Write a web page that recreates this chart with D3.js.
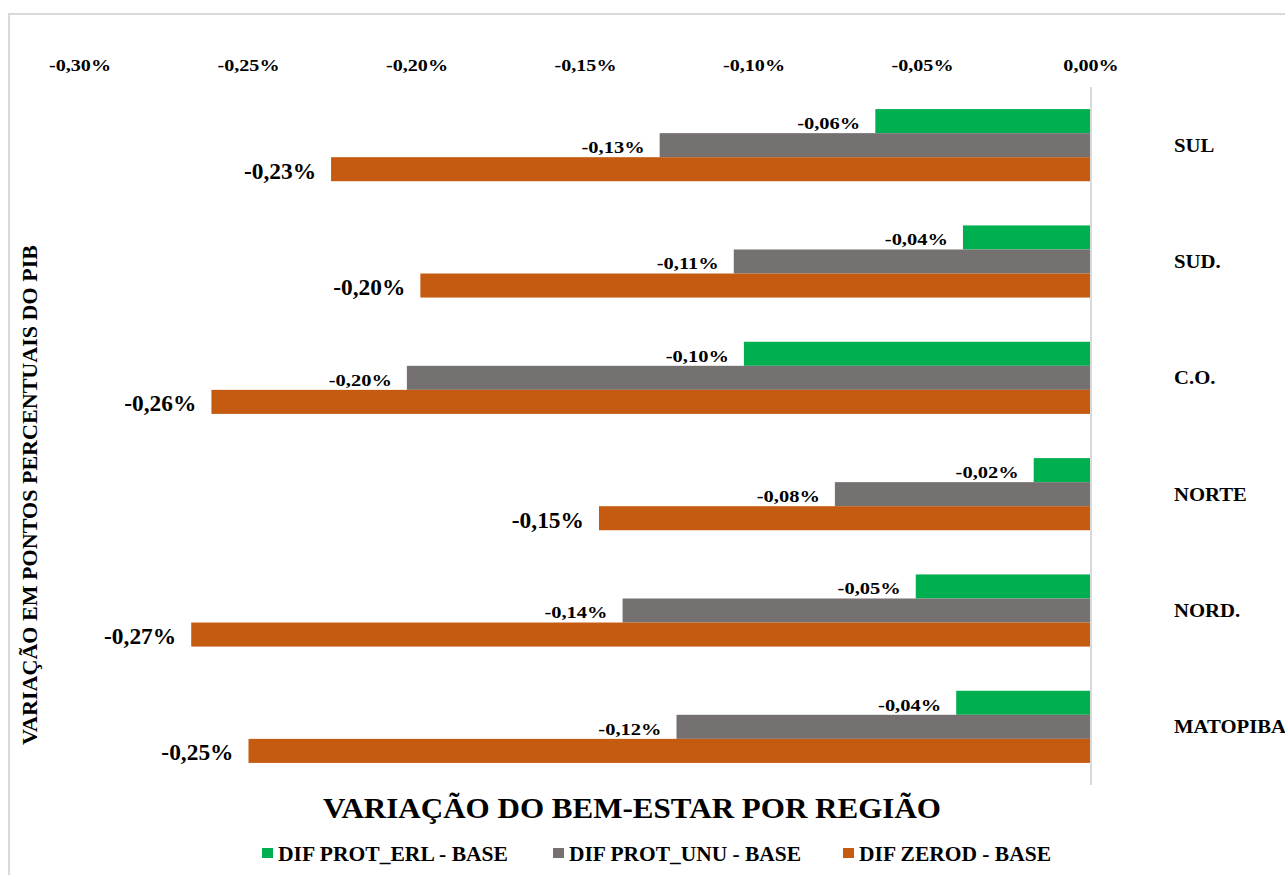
<!DOCTYPE html>
<html>
<head>
<meta charset="utf-8">
<script src="https://cdn.jsdelivr.net/npm/d3@7"></script>
<style>
	body { margin: 0; background: #fff; }
</style>
</head>
<body>
<div id="chart"></div>
<script>
var regions = ['SUL', 'SUD.', 'C.O.', 'NORTE', 'NORD.', 'MATOPIBA'];
var seriesNames = ['DIF PROT_ERL - BASE', 'DIF PROT_UNU - BASE', 'DIF ZEROD - BASE'];
var protErl = [-0.064, -0.038, -0.103, -0.017, -0.052, -0.040];
var protUnu = [-0.128, -0.106, -0.203, -0.076, -0.139, -0.123];
var zerod = [-0.2255, -0.199, -0.261, -0.146, -0.267, -0.250];
var ticks = [-0.30, -0.25, -0.20, -0.15, -0.10, -0.05, 0];
var colors = ['#00b050', '#767171', '#c55a11'];

(function() {
	var width = 1285, height = 875;
	var svg = d3.select('#chart').append('svg')
		.attr('width', width)
		.attr('height', height);

	// every label uses the same bold serif
	var serif = function(sel, size) {
		sel.attr('font-family', 'Liberation Serif')
			.style('font-family', "'Liberation Serif', serif")
			.style('font-weight', 'bold')
			.style('font-size', size + 'px')
			.attr('fill', '#000');
	};

	// stretch a text horizontally by a factor
	var stretch = function(sel, k) {
		sel.each(function() {
			var len = this.getComputedTextLength();
			d3.select(this)
				.attr('textLength', len * k)
				.attr('lengthAdjust', 'spacingAndGlyphs');
		});
	};

	// chart frame
	svg.append('rect')
		.attr('x', 9).attr('y', 14)
		.attr('width', width + 20).attr('height', height + 20)
		.attr('fill', 'none')
		.attr('stroke', '#d9d9d9')
		.attr('stroke-width', 2);

	var x = d3.scaleLinear().domain([-0.30, 0]).range([80, 1091]);
	var y = d3.scaleBand().domain(regions).range([87, 785])
		.paddingInner(0.38).paddingOuter(0.19);
	var ySub = d3.scaleBand().domain([0, 1, 2]).range([0, y.bandwidth()]);

	var fmt = function(v) {
		return d3.format('.2f')(v).replace('\u2212', '-').replace('.', ',') + '%';
	};

	// top axis labels
	svg.append('g').selectAll('text')
		.data(ticks).enter().append('text')
		.attr('x', function(d) { return x(d); })
		.attr('y', 71)
		.attr('text-anchor', 'middle')
		.text(function(d) { return fmt(d); })
		.call(serif, 17.5)
		.call(stretch, 1.15);

	var series = [protErl, protUnu, zerod];
	var groups = svg.append('g').selectAll('g')
		.data(regions).enter().append('g')
		.attr('transform', function(d) { return 'translate(0,' + y(d) + ')'; });

	groups.each(function(region, i) {
		var g = d3.select(this);
		series.forEach(function(s, k) {
			var v = s[i];
			g.append('rect')
				.attr('x', x(v))
				.attr('y', ySub(k))
				.attr('width', x(0) - x(v))
				.attr('height', ySub.bandwidth())
				.attr('fill', colors[k]);
			g.append('text')
				.attr('x', x(v) - 15)
				.attr('y', ySub(k) + ySub.bandwidth() / 2 + 2)
				.attr('dominant-baseline', 'central')
				.attr('text-anchor', 'end')
				.text(fmt(v))
				.call(serif, k == 2 ? 22.5 : 17.5)
				.call(stretch, k == 2 ? 1.04 : 1.17);
		});
		g.append('text')
			.attr('x', 1174)
			.attr('y', y.bandwidth() / 2)
			.attr('dominant-baseline', 'central')
			.text(region)
			.call(serif, 19)
			.call(stretch, 1.09);
	});

	// zero line
	svg.append('line')
		.attr('x1', x(0)).attr('x2', x(0))
		.attr('y1', 87).attr('y2', 785)
		.attr('stroke', '#d9d9d9')
		.attr('stroke-width', 2);

	// axis title
	svg.append('text')
		.attr('transform', 'translate(37,495) rotate(-90)')
		.attr('text-anchor', 'middle')
		.text('VARIAÇÃO EM PONTOS PERCENTUAIS DO PIB')
		.call(serif, 21)
		.attr('textLength', 500)
		.attr('lengthAdjust', 'spacingAndGlyphs');

	// chart title
	svg.append('text')
		.attr('x', 323).attr('y', 818)
		.text('VARIAÇÃO DO BEM-ESTAR POR REGIÃO')
		.call(serif, 30)
		.attr('textLength', 618)
		.attr('lengthAdjust', 'spacingAndGlyphs');

	// legend
	var legendX = [262, 553, 843];
	var legendW = [230, 232, 192];
	var legend = svg.append('g').selectAll('g')
		.data(seriesNames).enter().append('g')
		.attr('transform', function(d, i) { return 'translate(' + legendX[i] + ',852)'; });
	legend.append('rect')
		.attr('x', 0).attr('y', -4)
		.attr('width', 11).attr('height', 10)
		.attr('fill', function(d, i) { return colors[i]; });
	legend.append('text')
		.attr('x', 16).attr('y', 9)
		.text(function(d) { return d; })
		.call(serif, 21)
		.attr('textLength', function(d, i) { return legendW[i]; })
		.attr('lengthAdjust', 'spacingAndGlyphs');
})();
</script>
</body>
</html>
